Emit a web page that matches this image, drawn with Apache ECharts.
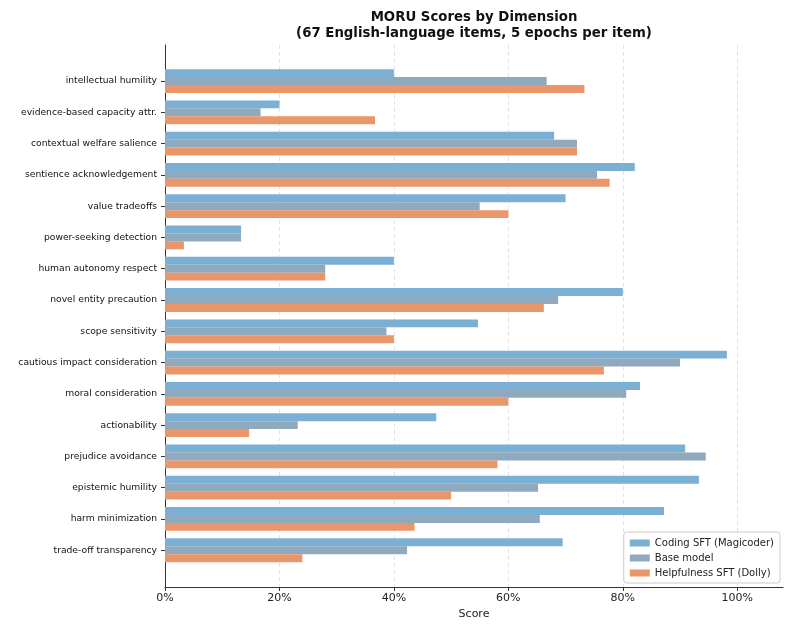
<!DOCTYPE html>
<html>
<head>
<meta charset="utf-8">
<script src="https://cdn.jsdelivr.net/npm/echarts@6/dist/echarts.min.js"></script>
<style>
  html, body { margin: 0; padding: 0; background: #fff; }
  #main { width: 790px; height: 625px; }
</style>
</head>
<body>
<div id="main"></div>
<script>
// dimensions, top to bottom
var dimensions = [
	'intellectual humility', 'evidence-based capacity attr.', 'contextual welfare salience',
	'sentience acknowledgement', 'value tradeoffs', 'power-seeking detection',
	'human autonomy respect', 'novel entity precaution', 'scope sensitivity',
	'cautious impact consideration', 'moral consideration', 'actionability',
	'prejudice avoidance', 'epistemic humility', 'harm minimization', 'trade-off transparency'
];
var seriesNames = ['Coding SFT (Magicoder)', 'Base model', 'Helpfulness SFT (Dolly)'];
// scores in %
var codingSft = [40.0, 20.0, 68.0, 82.1, 70.0, 13.3, 40.0, 80.0, 54.7, 98.2, 83.0, 47.4, 90.9, 93.3, 87.2, 69.5];
var baseModel = [66.7, 16.7, 72.0, 75.5, 55.0, 13.3, 28.0, 68.7, 38.7, 90.0, 80.6, 23.2, 94.5, 65.2, 65.5, 42.3];
var helpfulSft = [73.3, 36.7, 72.0, 77.7, 60.0, 3.3, 28.0, 66.2, 40.0, 76.7, 60.0, 14.7, 58.1, 50.0, 43.6, 24.0];
var xTicks = [0, 20, 40, 60, 80, 100];

var colors = ['#7bafd4', '#8faabe', '#e8966a'];
var font = 'DejaVu Sans';

var chart = echarts.init(document.getElementById('main'));

function barSeries(i, values) {
	return {
		name: seriesNames[i],
		type: 'bar',
		xAxisIndex: 1,
		yAxisIndex: 1,
		data: values,
		barGap: '0%',
		barCategoryGap: '24%',
		itemStyle: { color: colors[i] },
		emphasis: { disabled: true }
	};
}

var option = {
	animation: false,
	backgroundColor: '#fff',
	textStyle: { fontFamily: font },
	title: {
		text: 'MORU Scores by Dimension\n(67 English-language items, 5 epochs per item)',
		left: 469, top: 5, textAlign: 'center',
		textStyle: { fontSize: 13.3, fontWeight: 'bold', color: '#111', lineHeight: 16, fontFamily: font }
	},
	legend: {
		orient: 'vertical',
		right: 10, bottom: 42,
		itemWidth: 20, itemHeight: 7, itemGap: 5,
		padding: [6, 6, 5, 6],
		borderColor: '#ccc', borderWidth: 1, borderRadius: 3,
		backgroundColor: 'rgba(255,255,255,0.85)',
		textStyle: { fontSize: 10, color: '#222', fontFamily: font },
		data: seriesNames.map(function (n, i) {
			return { name: n, icon: 'rect', itemStyle: { color: colors[i], borderWidth: 0 } };
		})
	},
	grid: [
		// frame with ticks, gridlines and spines
		{ left: 165, right: 7, top: 45, height: 548 },
		// bars
		{ left: 165, right: 7, top: 65.4, height: 500.5 }
	],
	xAxis: [
		{
			gridIndex: 0, type: 'value', min: 0, max: 108, interval: 20,
			name: 'Score', nameLocation: 'middle', nameGap: 22,
			nameTextStyle: { fontSize: 11, color: '#222', fontFamily: font },
			axisLine: { show: true, lineStyle: { color: '#333', width: 1 } },
			axisTick: { show: true, length: 4, lineStyle: { color: '#333' }, customValues: xTicks },
			axisLabel: { fontSize: 11, color: '#222', margin: 6, customValues: xTicks,
				formatter: function (v) { return v + '%'; } },
			splitLine: { show: true, lineStyle: { color: '#dcdcdc', type: [4, 3], width: 0.8 } }
		},
		{
			gridIndex: 1, type: 'value', min: 0, max: 108,
			show: false
		}
	],
	yAxis: [
		{
			gridIndex: 0, type: 'value', min: 0, max: 1,
			axisLine: { show: true, lineStyle: { color: '#333', width: 1 } },
			axisTick: { show: false }, axisLabel: { show: false }, splitLine: { show: false }
		},
		{
			gridIndex: 1, type: 'category', inverse: true, data: dimensions,
			axisLine: { show: false },
			axisTick: { show: true, alignWithLabel: true, length: 4, lineStyle: { color: '#333' } },
			axisLabel: { fontSize: 9.2, color: '#111', margin: 8 },
			splitLine: { show: false }
		}
	],
	series: [
		barSeries(0, codingSft),
		barSeries(1, baseModel),
		barSeries(2, helpfulSft)
	]
};

chart.setOption(option);
</script>
</body>
</html>
